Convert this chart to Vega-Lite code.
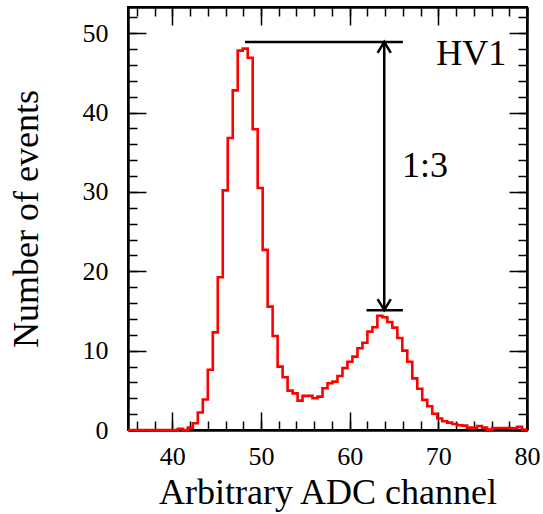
{
  "$schema": "https://vega.github.io/schema/vega-lite/v6.json",
  "width": 399,
  "height": 423,
  "autosize": {"type": "none"},
  "padding": {"left": 128, "top": 7, "right": 16, "bottom": 84},
  "background": "white",
  "config": {
    "view": {"stroke": "#000000", "strokeWidth": 2},
    "font": "Liberation Serif",
    "axis": {
      "grid": false,
      "labelFont": "Liberation Serif",
      "titleFont": "Liberation Serif",
      "labelColor": "#000000",
      "titleColor": "#000000",
      "labelFontSize": 26,
      "titleFontSize": 36,
      "titleFontWeight": "normal"
    }
  },
  "datasets": {
    "hist": [
      {"x": 35, "n": 0}, {"x": 35.5625, "n": 0}, {"x": 36.125, "n": 0}, {"x": 36.6875, "n": 0},
      {"x": 37.25, "n": 0}, {"x": 37.8125, "n": 0}, {"x": 38.375, "n": 0}, {"x": 38.9375, "n": 0},
      {"x": 39.5, "n": 0}, {"x": 40.0625, "n": 0}, {"x": 40.625, "n": 0.15}, {"x": 41.1875, "n": 0},
      {"x": 41.75, "n": 0.3}, {"x": 42.3125, "n": 0.85}, {"x": 42.875, "n": 2.2}, {"x": 43.4375, "n": 3.85},
      {"x": 44, "n": 7.6}, {"x": 44.5625, "n": 12.3}, {"x": 45.125, "n": 19.25}, {"x": 45.6875, "n": 30.2},
      {"x": 46.25, "n": 36.8}, {"x": 46.8125, "n": 42.8}, {"x": 47.375, "n": 47.8}, {"x": 47.9375, "n": 48.05},
      {"x": 48.5, "n": 46.9}, {"x": 49.0625, "n": 37.9}, {"x": 49.625, "n": 30.5}, {"x": 50.1875, "n": 22.7},
      {"x": 50.75, "n": 15.55}, {"x": 51.3125, "n": 11.85}, {"x": 51.875, "n": 7.98}, {"x": 52.4375, "n": 6.64},
      {"x": 53, "n": 4.96}, {"x": 53.5625, "n": 4.62}, {"x": 54.125, "n": 3.7}, {"x": 54.6875, "n": 4.3},
      {"x": 55.25, "n": 4.3}, {"x": 55.8125, "n": 4.0}, {"x": 56.375, "n": 4.2}, {"x": 56.9375, "n": 5.26},
      {"x": 57.5, "n": 5.9}, {"x": 58.0625, "n": 6.1}, {"x": 58.625, "n": 6.8}, {"x": 59.1875, "n": 7.8},
      {"x": 59.75, "n": 8.6}, {"x": 60.3125, "n": 9.25}, {"x": 60.875, "n": 10.3}, {"x": 61.4375, "n": 11.0},
      {"x": 62, "n": 12.4}, {"x": 62.5625, "n": 12.95}, {"x": 63.125, "n": 14.4}, {"x": 63.6875, "n": 14.2},
      {"x": 64.25, "n": 13.6}, {"x": 64.8125, "n": 12.9}, {"x": 65.375, "n": 11.6}, {"x": 65.9375, "n": 10.0},
      {"x": 66.5, "n": 8.6}, {"x": 67.0625, "n": 6.5}, {"x": 67.625, "n": 5.2}, {"x": 68.1875, "n": 3.8},
      {"x": 68.75, "n": 3.0}, {"x": 69.3125, "n": 2.05}, {"x": 69.875, "n": 1.45}, {"x": 70.4375, "n": 1.1},
      {"x": 71, "n": 0.93}, {"x": 71.5625, "n": 0.75}, {"x": 72.125, "n": 0.6}, {"x": 72.6875, "n": 0.55},
      {"x": 73.25, "n": 0.3}, {"x": 73.8125, "n": 0.25}, {"x": 74.375, "n": 0.5}, {"x": 74.9375, "n": 0.3},
      {"x": 75.5, "n": 0.05}, {"x": 76.0625, "n": 0.25}, {"x": 76.625, "n": 0.25}, {"x": 77.1875, "n": 0.25},
      {"x": 77.75, "n": 0.25}, {"x": 78.3125, "n": 0.2}, {"x": 78.875, "n": 0.4}, {"x": 79.4375, "n": 0.05},
      {"x": 80, "n": 0.05}
    ],
    "segments": [
      {"x1": 48.2, "x2": 66.0, "y1": 48.9, "y2": 48.9},
      {"x1": 61.9, "x2": 66.0, "y1": 15.1, "y2": 15.1},
      {"x1": 63.9, "x2": 63.9, "y1": 15.1, "y2": 48.9}
    ],
    "heads": [
      {"x": 63.9, "y": 48.9, "dir": "up"},
      {"x": 63.9, "y": 15.1, "dir": "down"}
    ],
    "labels": [
      {"x": 73.7, "y": 46.0, "label": "HV1"},
      {"x": 68.5, "y": 31.9, "label": "1:3"}
    ]
  },
  "resolve": {"axis": {"x": "independent", "y": "independent"}},
  "layer": [
    {
      "data": {"name": "hist"},
      "mark": {"type": "line", "interpolate": "step-after", "color": "#ff0000", "strokeWidth": 2.6, "strokeJoin": "miter"},
      "encoding": {
        "x": {
          "field": "x", "type": "quantitative",
          "scale": {"domain": [35, 80], "nice": false, "zero": false},
          "axis": {"orient": "bottom", "values": [40, 50, 60, 70, 80], "domain": true, "domainColor": "black", "domainWidth": 2, "tickColor": "black", "tickWidth": 1.5, "tickSize": -18, "labelPadding": 31, "labelFlush": false,
                   "title": "Arbitrary ADC channel", "titleX": 199.5, "titleY": 73, "titleBaseline": "alphabetic", "titleAlign": "center"}
        },
        "y": {
          "field": "n", "type": "quantitative",
          "scale": {"domain": [0, 53.3], "nice": false, "zero": false},
          "axis": {"orient": "left", "values": [0, 10, 20, 30, 40, 50], "domain": true, "domainColor": "black", "domainWidth": 2, "tickColor": "black", "tickWidth": 1.5, "tickSize": -18, "labelPadding": 38,
                   "title": "Number of events", "titleX": -91, "titleY": 211.5, "titleAngle": -90, "titleBaseline": "alphabetic", "titleAlign": "center"}
        }
      }
    },
    {
      "data": {"name": "segments"},
      "mark": {"type": "rule", "color": "#000000", "strokeWidth": 2.5},
      "encoding": {
        "x": {
          "field": "x1", "type": "quantitative",
          "scale": {"domain": [35, 80], "nice": false, "zero": false},
          "axis": {"orient": "bottom", "values": [36, 38, 40, 42, 44, 46, 48, 50, 52, 54, 56, 58, 60, 62, 64, 66, 68, 70, 72, 74, 76, 78, 80], "domain": true, "domainColor": "black", "domainWidth": 2, "tickColor": "black", "tickWidth": 1.5, "tickSize": -9, "labels": false, "title": null}
        },
        "x2": {"field": "x2"},
        "y": {
          "field": "y1", "type": "quantitative",
          "scale": {"domain": [0, 53.3], "nice": false, "zero": false},
          "axis": {"orient": "left", "values": [0, 2, 4, 6, 8, 10, 12, 14, 16, 18, 20, 22, 24, 26, 28, 30, 32, 34, 36, 38, 40, 42, 44, 46, 48, 50, 52], "domain": true, "domainColor": "black", "domainWidth": 2, "tickColor": "black", "tickWidth": 1.5, "tickSize": -9, "labels": false, "title": null}
        },
        "y2": {"field": "y2"}
      }
    },
    {
      "data": {"name": "heads"},
      "mark": {"type": "point", "filled": false, "stroke": "#000000", "strokeWidth": 2.5, "opacity": 1, "size": 484},
      "encoding": {
        "x": {
          "field": "x", "type": "quantitative",
          "scale": {"domain": [35, 80], "nice": false, "zero": false},
          "axis": {"orient": "top", "values": [40, 50, 60, 70, 80], "domain": true, "domainColor": "black", "domainWidth": 2, "tickColor": "black", "tickWidth": 1.5, "tickSize": -18, "labels": false, "title": null}
        },
        "y": {
          "field": "y", "type": "quantitative",
          "scale": {"domain": [0, 53.3], "nice": false, "zero": false},
          "axis": {"orient": "right", "values": [0, 10, 20, 30, 40, 50], "domain": true, "domainColor": "black", "domainWidth": 2, "tickColor": "black", "tickWidth": 1.5, "tickSize": -18, "labels": false, "title": null}
        },
        "shape": {
          "field": "dir", "type": "nominal",
          "scale": {"domain": ["up", "down"], "range": ["M-0.6,1L0,0L0.6,1", "M-0.6,-1L0,0L0.6,-1"]},
          "legend": null
        }
      }
    },
    {
      "data": {"name": "labels"},
      "mark": {"type": "text", "font": "Liberation Serif", "fontSize": 36, "align": "center", "baseline": "alphabetic", "color": "#000000"},
      "encoding": {
        "x": {
          "field": "x", "type": "quantitative",
          "scale": {"domain": [35, 80], "nice": false, "zero": false},
          "axis": {"orient": "top", "values": [36, 38, 40, 42, 44, 46, 48, 50, 52, 54, 56, 58, 60, 62, 64, 66, 68, 70, 72, 74, 76, 78, 80], "domain": true, "domainColor": "black", "domainWidth": 2, "tickColor": "black", "tickWidth": 1.5, "tickSize": -9, "labels": false, "title": null}
        },
        "y": {
          "field": "y", "type": "quantitative",
          "scale": {"domain": [0, 53.3], "nice": false, "zero": false},
          "axis": {"orient": "right", "values": [0, 2, 4, 6, 8, 10, 12, 14, 16, 18, 20, 22, 24, 26, 28, 30, 32, 34, 36, 38, 40, 42, 44, 46, 48, 50, 52], "domain": true, "domainColor": "black", "domainWidth": 2, "tickColor": "black", "tickWidth": 1.5, "tickSize": -9, "labels": false, "title": null}
        },
        "text": {"field": "label", "type": "nominal"}
      }
    }
  ]
}
